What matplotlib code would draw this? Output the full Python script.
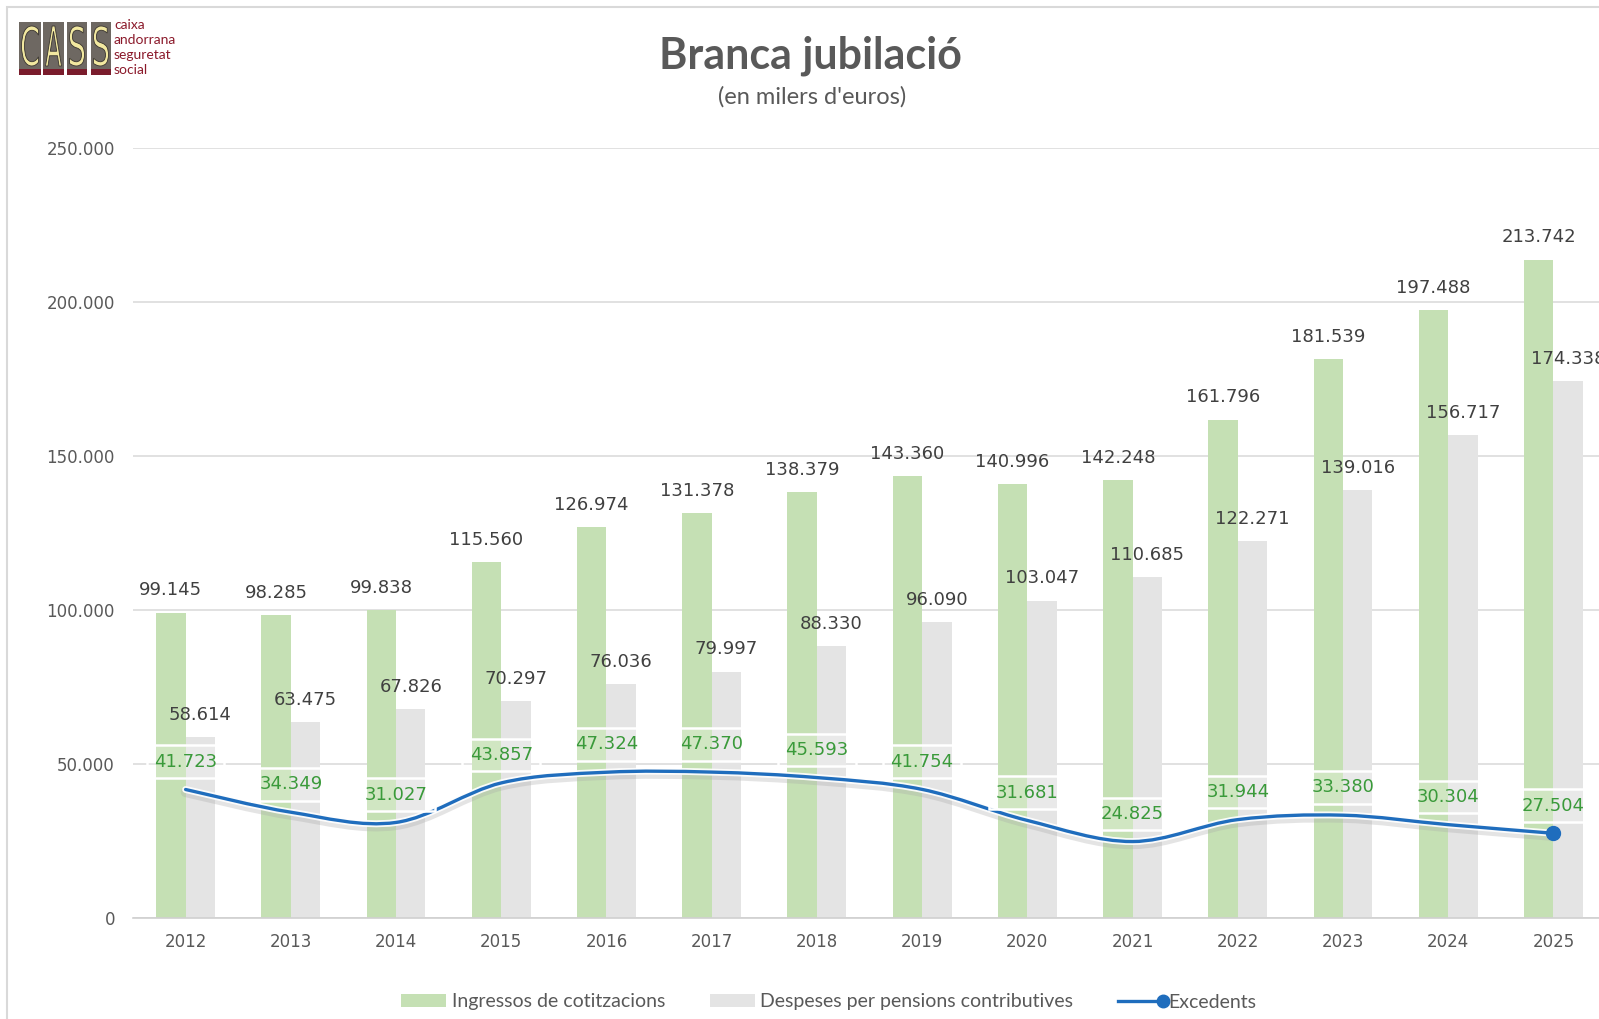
import matplotlib
matplotlib.use("Agg")
import matplotlib.pyplot as plt
import numpy as np
from matplotlib.path import Path
from matplotlib.patches import PathPatch, Rectangle, Patch
from matplotlib.lines import Line2D
from matplotlib.legend_handler import HandlerBase
from matplotlib.textpath import TextPath
from matplotlib.font_manager import FontProperties
from matplotlib.transforms import Affine2D
import matplotlib.patheffects as pe

years = ["2012", "2013", "2014", "2015", "2016", "2017", "2018",
         "2019", "2020", "2021", "2022", "2023", "2024", "2025"]
ingressos = [99145, 98285, 99838, 115560, 126974, 131378, 138379,
             143360, 140996, 142248, 161796, 181539, 197488, 213742]
despeses = [58614, 63475, 67826, 70297, 76036, 79997, 88330,
            96090, 103047, 110685, 122271, 139016, 156717, 174338]
excedents = [41723, 34349, 31027, 43857, 47324, 47370, 45593,
             41754, 31681, 24825, 31944, 33380, 30304, 27504]
yticks = [0, 50000, 100000, 150000, 200000, 250000]

GREEN = "#c5e0b4"
GREY = "#e4e4e4"
BLUE = "#1f6dbd"
TXT = "#595959"
LBL = "#404040"
LBL_GREEN = "#3a9a3a"

W, H = 1599, 1019


def fmt(v):
    return f"{v:,}".replace(",", ".")


def smooth_path(xs, ys):
    # bezier segments, roughly the way Excel smooths a line series
    pts = np.column_stack([xs, ys]).astype(float)
    n = len(pts)
    verts = [pts[0]]
    codes = [Path.MOVETO]
    for i in range(n - 1):
        p0 = pts[max(i - 1, 0)]
        p1 = pts[i]
        p2 = pts[i + 1]
        p3 = pts[min(i + 2, n - 1)]
        verts += [p1 + (p2 - p0) / 6, p2 - (p3 - p1) / 6, p2]
        codes += [Path.CURVE4] * 3
    return Path(verts, codes)


class EndDotHandler(HandlerBase):
    def create_artists(self, legend, orig_handle, xdescent, ydescent,
                       width, height, fontsize, trans):
        y = height / 2 - ydescent
        ln = Line2D([-xdescent, width - xdescent], [y, y], color=BLUE, lw=2.4)
        dot = Line2D([width - xdescent], [y], marker="o", color=BLUE, ms=9)
        ln.set_transform(trans)
        dot.set_transform(trans)
        return [ln, dot]


fig = plt.figure(figsize=(W / 100, H / 100), dpi=100)
fig.patch.set_facecolor("white")

# thin frame of the original chart area
fig.add_artist(Rectangle((7 / W, -0.1), 1.2, 1 - 7 / H + 0.1, transform=fig.transFigure,
                         fill=False, edgecolor="#d9d9d9", lw=1.5))

ax = fig.add_axes([133 / W, 101 / H, 1473 / W, 770 / H])
x = np.arange(len(years))
bw = 0.28
b1 = ax.bar(x - bw / 2, ingressos, bw, color=GREEN, zorder=2)
b2 = ax.bar(x + bw / 2, despeses, bw, color=GREY, zorder=2)

ax.set_xlim(-0.5, len(years) - 0.5)
ax.set_ylim(0, 250000)
ax.set_yticks(yticks)
ax.set_yticklabels([fmt(v) for v in yticks])
ax.set_xticks(x)
ax.set_xticklabels(years)
ax.tick_params(axis="y", length=0, pad=13, labelsize=12, labelcolor=TXT)
ax.tick_params(axis="x", length=0, pad=11, labelsize=12, labelcolor=TXT)
ax.grid(axis="y", color="#d9d9d9", lw=1.1, zorder=0)
ax.set_axisbelow(True)
for s in ["top", "right", "left"]:
    ax.spines[s].set_visible(False)
ax.spines["bottom"].set_color("#d0d0d0")
ax.spines["bottom"].set_linewidth(1.2)

for rect, v in zip(b1, ingressos):
    ax.annotate(fmt(v), (rect.get_x() + rect.get_width() / 2, v), xytext=(0, 16),
                textcoords="offset points", ha="center", va="center",
                fontsize=13, color=LBL, zorder=5)
for rect, v in zip(b2, despeses):
    ax.annotate(fmt(v), (rect.get_x() + rect.get_width() / 2, v), xytext=(0, 16),
                textcoords="offset points", ha="center", va="center",
                fontsize=13, color=LBL, zorder=5)

# excedents as smoothed line with a soft glow
patch = PathPatch(smooth_path(x, excedents), fill=False, edgecolor=BLUE, lw=2.4,
                  zorder=4, capstyle="round",
                  path_effects=[pe.SimpleLineShadow(offset=(0, -2), shadow_color="#a8a8a8",
                                                    alpha=0.3, linewidth=7),
                                pe.Stroke(linewidth=5, foreground="white", alpha=0.9),
                                pe.Normal()])
ax.add_patch(patch)
ax.plot([x[-1]], [excedents[-1]], "o", color=BLUE, ms=10, zorder=6)

for xi, v in zip(x, excedents):
    ax.annotate(fmt(v), (xi, v), xytext=(0, 20), textcoords="offset points",
                ha="center", va="center", fontsize=13, color=LBL_GREEN, zorder=7,
                bbox=dict(boxstyle="square,pad=0.4", facecolor=(1, 1, 1, 0.2),
                          edgecolor="white", lw=1.8))

# title
fig.text(810 / W, 1 - 56 / H, "Branca jubilació", ha="center", va="center",
         fontsize=31, fontweight="bold", color=TXT, family="Lato")
fig.text(812 / W, 1 - 97 / H, "(en milers d'euros)", ha="center", va="center",
         fontsize=17, color=TXT, family="Lato")

# legend
handles = [Patch(facecolor=GREEN, edgecolor="none"),
           Patch(facecolor=GREY, edgecolor="none"),
           Line2D([], [], color=BLUE)]
labels = ["Ingressos de cotitzacions", "Despeses per pensions contributives", "Excedents"]
fig.legend(handles, labels, loc="center", bbox_to_anchor=(829 / W, 17 / H), ncol=3,
           frameon=False, handlelength=2.3, handleheight=0.65, handletextpad=0.3,
           columnspacing=2.3, prop={"family": "Lato", "size": 14}, labelcolor=TXT,
           handler_map={handles[2]: EndDotHandler()})

# CASS logo
lg = fig.add_axes([0, 1 - 90 / H, 200 / W, 90 / H])
lg.set_xlim(0, 200)
lg.set_ylim(90, 0)
lg.axis("off")
fp = FontProperties(family="DejaVu Sans")
for (x0, x1), ch in zip([(19, 41), (43, 64), (67, 87), (91, 111)], "CASS"):
    lg.add_patch(Rectangle((x0, 22), x1 - x0, 47, facecolor="#6e6862", edgecolor="none"))
    lg.add_patch(Rectangle((x0, 69), x1 - x0, 6, facecolor="#7a1c2c", edgecolor="none"))
    tp = TextPath((0, 0), ch, size=1, prop=fp)
    ext = tp.get_extents()
    tr = (Affine2D().translate(-ext.x0, -ext.y0)
          .scale((x1 - x0 - 5) / ext.width, -40 / ext.height)
          .translate(x0 + 2.5, 66))
    lg.add_patch(PathPatch(tr.transform_path(tp), facecolor="#f2e8a0",
                           edgecolor="#3a3530", lw=0.6))
for yy, word in zip([25, 40, 55, 70], ["caixa", "andorrana", "seguretat", "social"]):
    lg.text(114, yy, word, ha="left", va="center", fontsize=10, color="#8b1a2b",
            family="Lato")

fig.savefig("out.png", dpi=100)
